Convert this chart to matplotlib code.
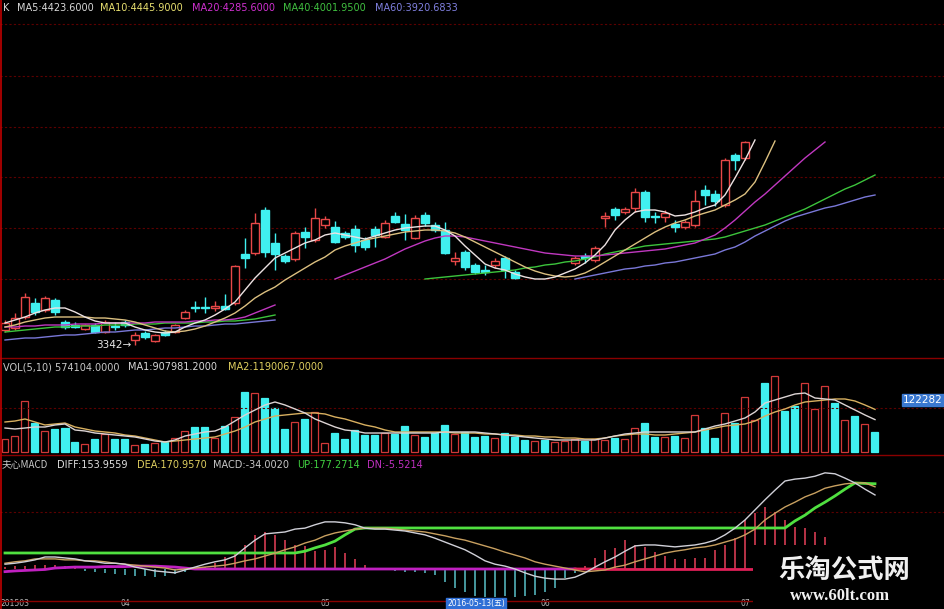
import numpy as np
import matplotlib
matplotlib.use("Agg")
import matplotlib.pyplot as plt
from matplotlib.patches import Rectangle

nan = np.nan

# --- K line (one candle per trading day, index 0 = first bar) ---
opens = [3417, 3427, 3482, 3552, 3517, 3567, 3457, 3442, 3422, 3442,
         3407, 3437, 3457, 3367, 3402, 3362, 3407, 3407, 3477, 3532,
         3532, 3527, 3537, 3552, 3797, 3802, 4017, 3852, 3787, 3772,
         3907, 3867, 3942, 3932, 3902, 3922, 3867, 3922, 3882, 3987,
         3947, 3877, 3992, 3942, 3917, 3762, 3807, 3742, 3717, 3742,
         3777, 3707, nan, nan, nan, nan, nan, 3752, 3787, 3767,
         3977, 4022, 4007, 4027, 4107, 3987, 3982, 3947, 3932, 3942,
         4117, 4097, 4042, 4292, 4277]
highs = [3467, 3502, 3602, 3577, 3587, 3577, 3467, 3457, 3447, 3452,
         3467, 3457, 3467, 3407, 3412, 3397, 3417, 3447, 3517, 3562,
         3582, 3562, 3597, 3742, 3877, 4002, 4032, 3902, 3797, 3912,
         3932, 4027, 3987, 3962, 3912, 3942, 3882, 3937, 3967, 4007,
         3997, 3992, 4007, 3957, 3957, 3807, 3817, 3752, 3742, 3777,
         3787, 3717, nan, nan, nan, nan, nan, 3787, 3802, 3837,
         4007, 4032, 4032, 4127, 4117, 4007, 4017, 3967, 3967, 4117,
         4142, 4117, 4277, 4302, 4362]
lows = [3407, 3417, 3472, 3492, 3507, 3492, 3422, 3427, 3417, 3402,
        3402, 3417, 3432, 3342, 3372, 3357, 3387, 3402, 3472, 3507,
        3502, 3512, 3517, 3542, 3727, 3792, 3782, 3717, 3752, 3762,
        3827, 3857, 3927, 3852, 3872, 3807, 3817, 3832, 3877, 3952,
        3867, 3872, 3937, 3907, 3797, 3742, 3717, 3697, 3692, 3727,
        3677, 3672, nan, nan, nan, nan, nan, 3742, 3752, 3757,
        3932, 3967, 3997, 4007, 3957, 3952, 3957, 3907, 3922, 3932,
        4042, 4037, 4032, 4217, 4267]
closes = [3452, 3477, 3582, 3507, 3577, 3507, 3432, 3432, 3442, 3407,
          3457, 3432, 3442, 3392, 3382, 3392, 3392, 3442, 3507, 3527,
          3527, 3537, 3522, 3737, 3777, 3952, 3807, 3797, 3762, 3902,
          3882, 3977, 3972, 3857, 3882, 3842, 3832, 3892, 3952, 3957,
          3917, 3977, 3952, 3917, 3802, 3777, 3732, 3707, 3707, 3762,
          3717, 3677, nan, nan, nan, nan, nan, 3777, 3777, 3827,
          3987, 3992, 4022, 4107, 3982, 3982, 4002, 3932, 3957, 4062,
          4092, 4062, 4267, 4267, 4357]

ma5 = [3452, 3467, 3482, 3502, 3517, 3527, 3527, 3507, 3482, 3462,
       3452, 3452, 3452, 3432, 3417, 3407, 3402, 3407, 3432, 3452,
       3467, 3492, 3522, 3557, 3617, 3677, 3727, 3777, 3802, 3827,
       3852, 3867, 3892, 3902, 3892, 3882, 3872, 3887, 3902, 3917,
       3927, 3932, 3937, 3937, 3917, 3887, 3837, 3792, 3747, 3727,
       3717, 3697, 3682, 3672, 3672, 3682, 3702, 3722, 3752, 3792,
       3842, 3917, 3967, 4007, 4017, 4017, 4007, 3987, 3992, 4007,
       4027, 4042, 4092, 4177, 4267, 4367] + [nan] * 12
ma10 = [3432, 3442, 3457, 3467, 3477, 3482, 3482, 3482, 3482, 3477,
        3477, 3472, 3467, 3457, 3442, 3427, 3412, 3407, 3412, 3422,
        3437, 3457, 3477, 3502, 3537, 3577, 3607, 3632, 3667, 3697,
        3727, 3757, 3782, 3817, 3837, 3852, 3867, 3877, 3887, 3897,
        3907, 3912, 3917, 3917, 3912, 3902, 3882, 3857, 3832, 3807,
        3782, 3757, 3732, 3712, 3697, 3687, 3682, 3687, 3702, 3727,
        3757, 3787, 3817, 3847, 3877, 3907, 3932, 3952, 3967, 3987,
        4002, 4017, 4042, 4067, 4097, 4157, 4257, 4362] + [nan] * 10
ma20 = ([3432, 3432, 3437, 3437, 3442, 3442, 3442, 3447, 3447, 3447,
         3452, 3452, 3452, 3452, 3452, 3457, 3457, 3457, 3457, 3462,
         3462, 3467, 3467, 3472, 3482, 3502, 3522, 3542]
        + [nan] * 5
        + [3672, 3692, 3712, 3732, 3752, 3772, 3797, 3822, 3842, 3862,
           3877, 3887, 3887, 3882, 3872, 3862, 3852, 3842, 3832, 3822,
           3812, 3802, 3797, 3792, 3787, 3787, 3787, 3792, 3797, 3802,
           3807, 3812, 3817, 3822, 3832, 3842, 3852, 3872, 3892, 3927,
           3967, 4012, 4057, 4097, 4142, 4187, 4232, 4277, 4317, 4357]
        + [nan] * 5)
ma40 = ([3407, 3412, 3417, 3422, 3427, 3432, 3432, 3437, 3437, 3437,
         3442, 3442, 3442, 3447, 3447, 3447, 3452, 3452, 3452, 3452,
         3457, 3457, 3462, 3462, 3467, 3472, 3482, 3492]
        + [nan] * 14
        + [3672, 3677, 3682, 3687, 3692, 3697, 3702, 3707, 3712, 3717,
           3727, 3732, 3742, 3747, 3757, 3762, 3772, 3782, 3797, 3807,
           3817, 3827, 3837, 3842, 3847, 3852, 3857, 3862, 3867, 3872,
           3882, 3897, 3912, 3927, 3942, 3962, 3982, 4002, 4022, 4047,
           4072, 4097, 4122, 4142, 4167, 4192])
ma60 = ([3367, 3372, 3377, 3377, 3382, 3387, 3392, 3392, 3397, 3402,
         3407, 3407, 3412, 3417, 3417, 3422, 3427, 3427, 3432, 3437,
         3437, 3442, 3447, 3447, 3452, 3457, 3462, 3467]
        + [nan] * 29
        + [3672, 3682, 3692, 3702, 3712, 3722, 3727, 3737, 3742, 3752,
           3757, 3767, 3777, 3787, 3797, 3817, 3832, 3857, 3887, 3912,
           3937, 3962, 3982, 3997, 4012, 4027, 4037, 4052, 4067, 4082,
           4092])

# --- volume (thousand shares) ---
vol_k = [364, 455, 1430, 806, 593, 640, 684, 298, 235, 364,
         511, 364, 381, 199, 235, 270, 298, 408, 602, 696,
         696, 392, 731, 972, 1678, 1634, 1512, 1236, 649, 850,
         925, 1126, 270, 530, 364, 621, 483, 483, 530, 511,
         731, 483, 436, 546, 759, 511, 574, 436, 455, 400,
         538, 428, 345, 317, 345, 290, 317, 373, 317, 373,
         345, 392, 364, 684, 806, 436, 420, 455, 392, 1035,
         668, 392, 1082, 822, 1540, 897, 1926, 2120, 1154, 1283,
         1910, 1192, 1844, 1358, 897, 1007, 787, 574]
vol_dir = ("rrrcrcccrc" "rccrcrcrrc" "crcrcrcccr" "crrcccccrc" "crcccrcccr"
           "cccrcrrrcr" "rcrrccrcrr" "ccrcrrcrcc" "rrrcrcrc")
vol_ma1 = [676, 649, 676, 704, 704, 759, 787, 621, 593, 538,
           511, 483, 455, 428, 373, 317, 290, 345, 455, 511,
           566, 593, 704, 869, 1035, 1173, 1311, 1394, 1311, 1201,
           1090, 925, 814, 704, 621, 593, 538, 538, 538, 538,
           538, 538, 538, 538, 566, 566, 566, 566, 538, 511,
           483, 455, 428, 400, 373, 345, 345, 345, 345, 345,
           400, 455, 511, 538, 566, 566, 566, 566, 566, 566,
           649, 731, 787, 869, 952, 1118, 1366, 1449, 1532, 1615,
           1642, 1504, 1477, 1449, 1311, 1173, 1035, 908]
vol_ma2 = [842, 869, 925, 842, 759, 787, 814, 704, 649, 593,
           566, 538, 483, 455, 400, 345, 290, 317, 345, 373,
           400, 428, 511, 593, 704, 842, 925, 1007, 1035, 1063,
           1090, 1090, 1063, 980, 925, 842, 759, 704, 621, 566,
           566, 566, 566, 566, 566, 538, 538, 538, 511, 511,
           483, 483, 455, 455, 428, 428, 400, 400, 373, 373,
           400, 455, 483, 511, 511, 483, 483, 511, 538, 566,
           621, 676, 731, 759, 787, 869, 1007, 1118, 1201, 1311,
           1394, 1421, 1449, 1477, 1477, 1421, 1311, 1190]

# --- MACD ---
diff = [10, 12, 15, 19, 25, 25, 23, 21, 17, 15,
        12, 12, 10, 4, 0, -4, -6, -8, -2, 4,
        10, 15, 19, 27, 44, 60, 73, 75, 77, 83,
        85, 92, 98, 98, 96, 92, 85, 83, 83, 81,
        79, 75, 71, 64, 56, 48, 40, 29, 17, 10,
        6, 0, -8, -15, -19, -21, -21, -17, -8, 4,
        15, 25, 37, 48, 50, 50, 48, 46, 48, 50,
        54, 60, 71, 85, 102, 123, 144, 164, 183, 187,
        189, 193, 200, 198, 189, 179, 166, 154]
dea = [12, 15, 17, 21, 21, 21, 19, 19, 17, 17,
       15, 12, 10, 8, 6, 4, 2, -2, 0, 2,
       4, 6, 8, 12, 17, 21, 27, 33, 40, 46,
       54, 60, 69, 75, 79, 83, 85, 85, 85, 83,
       81, 79, 77, 73, 69, 64, 60, 54, 48, 42,
       35, 29, 23, 15, 10, 6, 2, -2, -6, -4,
       -2, 4, 8, 15, 21, 27, 33, 37, 40, 44,
       46, 50, 56, 62, 71, 83, 102, 116, 129, 139,
       150, 158, 168, 173, 177, 179, 179, 171]
macd = [4, 6, 6, 8, 8, 8, 6, 2, -4, -6,
        -8, -10, -12, -15, -15, -17, -15, -10, -6, -2,
        4, 12, 25, 33, 50, 71, 77, 71, 60, 50,
        48, 37, 40, 46, 33, 21, 8, 2, -2, -4,
        -6, -6, -8, -12, -27, -40, -48, -56, -58, -58,
        -56, -58, -56, -54, -48, -40, -19, -8, 6, 23,
        40, 44, 60, 50, 46, 35, 27, 21, 21, 23,
        23, 40, 50, 64, 102, 116, 129, 119, 102, 87,
        85, 77, 67, 40, 19, 2, -19, -34]
up_line = ([33.3] * 30 + [37, 44, 50, 58, 71, 83] + [85.3] * 43
           + [100, 112, 127, 139, 152, 166, 179, 178, 177.3])
dn_line = ([-5.5, -4, -3, -2, -1, 2, 3, 4, 4, 4, 5, 5, 5, 6, 6, 6, 5, 4, 2, 0]
           + [0.0] * 40 + [-1.0] * 20 + [-3.0] * 7 + [-5.5])

date_ticks = [0, 12, 32, 54, 74]
date_labels = ["201503", "04", "05", "06", "07"]

idx = np.arange(len(vol_k))
W, H = 945, 609
RED = "#e84848"
CYAN = "#40f0f0"
GRID = "#5c0000"

fig = plt.figure(figsize=(W / 100, H / 100), dpi=100, facecolor="black")


def panel(top, bottom, ylim):
    ax = fig.add_axes([0, 1 - bottom / H, 1, (bottom - top) / H])
    ax.set_facecolor("black")
    ax.set_axis_off()
    ax.set_xlim(-0.5, 94.0)
    ax.set_ylim(*ylim)
    return ax


ax_k = panel(0, 358, (3277, 5067))
ax_v = panel(358, 455, (-69, 2608))
ax_m = panel(455, 609, (-83.2, 237.1))

# dotted grid
for lvl in (4947, 4687, 4432, 4182, 3927, 3672):
    ax_k.axhline(lvl, color=GRID, lw=0.8, ls=(0, (2, 2)))
ax_v.axhline(1222.82, color=GRID, lw=0.8, ls=(0, (2, 2)))
ax_m.axhline(118.6, color=GRID, lw=0.8, ls=(0, (2, 2)))

# candles
for i, (o, h, l, c) in enumerate(zip(opens, highs, lows, closes)):
    if np.isnan(o):
        continue
    lo, hi = min(o, c), max(o, c)
    if c >= o:
        ax_k.vlines(i, hi, h, color=RED, lw=1)
        ax_k.vlines(i, l, lo, color=RED, lw=1)
        ax_k.add_patch(Rectangle((i - 0.38, lo), 0.76, max(hi - lo, 2),
                                 facecolor="black", edgecolor=RED, lw=1, zorder=3))
    else:
        ax_k.vlines(i, l, h, color=CYAN, lw=1)
        ax_k.add_patch(Rectangle((i - 0.38, lo), 0.76, max(hi - lo, 2),
                                 facecolor=CYAN, edgecolor=CYAN, lw=1, zorder=3))

ax_k.plot(idx, ma60, color="#7a78d8", lw=1.0, zorder=4)
ax_k.plot(idx, ma40, color="#3cc43c", lw=1.0, zorder=4)
ax_k.plot(idx, ma20, color="#c038c0", lw=1.0, zorder=4)
ax_k.plot(idx, ma10, color="#dcc080", lw=1.0, zorder=4)
ax_k.plot(idx, ma5, color="#ece2e2", lw=1.0, zorder=4)
ax_k.text(13 - 0.4, 3342, "3342\u2192", color="#e8e8e8", fontsize=7.5,
          ha="right", va="center")

# volume
is_up = [d == "r" for d in vol_dir]
ax_v.bar(idx, vol_k, width=0.7,
         color=["black" if u else CYAN for u in is_up],
         edgecolor=["#d03838" if u else CYAN for u in is_up], linewidth=0.9)
ax_v.plot(idx, vol_ma2, color="#d8b060", lw=1.0)
ax_v.plot(idx, vol_ma1, color="#dcd4d4", lw=1.0)

# MACD
bar_col = ["#e8405a" if m > 0 else "#58c0c8" for m in macd]
ax_m.vlines(idx, 0, macd, colors=bar_col, lw=1.1)
ax_m.plot(idx[:58], dn_line[:58], color="#c020c0", lw=2.0)
ax_m.plot(idx[57:], dn_line[57:], color="#e02058", lw=2.0)
ax_m.plot(idx, up_line, color="#50e040", lw=2.0)
ax_m.plot(idx, dea, color="#c8a060", lw=1.0)
ax_m.plot(idx, diff, color="#d0d0d8", lw=1.0)

# frame lines
for py in (358, 455, 601):
    fig.add_artist(plt.Line2D([0, 1], [1 - py / H] * 2, color="#8a0000", lw=1.0))
fig.add_artist(plt.Line2D([1.5 / W] * 2, [0, 1], color="#c00000", lw=1.2))


def label(px, py, s, color, size=7, **kw):
    fig.text(px / W, 1 - py / H, s, color=color, fontsize=size,
             ha="left", va="center", **kw)


label(3, 8, "K", "#d8d8d8")
label(17, 8, "MA5:4423.6000", "#d8d8d8")
label(100, 8, "MA10:4445.9000", "#e8e070")
label(192, 8, "MA20:4285.6000", "#d030d0")
label(283, 8, "MA40:4001.9500", "#40c040")
label(375, 8, "MA60:3920.6833", "#8080e0")

label(3, 367, "VOL(5,10) 574104.0000", "#c8c8c8")
label(128, 367, "MA1:907981.2000", "#d8d8d8")
label(228, 367, "MA2:1190067.0000", "#e0d060")

label(2, 465, "夫心MACD", "#c8c8c8", family=["Noto Sans CJK SC", "DejaVu Sans"])
label(57, 465, "DIFF:153.9559", "#e0e0e0")
label(137, 465, "DEA:170.9570", "#e0d060")
label(213, 465, "MACD:-34.0020", "#c8c8c8")
label(297, 465, "UP:177.2714", "#40d040")
label(367, 465, "DN:-5.5214", "#c030c0")

# right-hand value tag, kept inside the frame
fig.text(943 / W, 1 - 400 / H, "122282", color="white", fontsize=7.5,
         ha="right", va="center",
         bbox=dict(facecolor="#3a78d0", edgecolor="#3a78d0", pad=1.0))

# date axis (small, kept inside the bottom strip)
for t, s in zip(date_ticks, date_labels):
    ax_m.text(t - 0.45, 0.5 / 154, s, color="#b8b8b8", fontsize=5.5,
              ha="left", va="bottom", transform=ax_m.get_xaxis_transform())
fig.text(476 / W, 1.2 / H, "2016-05-13(五)", color="white", fontsize=5.5,
         ha="center", va="bottom", family=["DejaVu Sans", "Noto Sans CJK SC"],
         bbox=dict(facecolor="#2f6fd6", edgecolor="#2f6fd6", pad=0.6))

# watermark block
fig.add_artist(Rectangle((753 / W, 0), 1 - 753 / W, 64 / H,
                         transform=fig.transFigure, facecolor="black",
                         edgecolor="none", zorder=10))
fig.text(844 / W, 1 - 570 / H, "乐淘公式网", color="#f0f0f0", fontsize=19,
         fontweight="bold", family=["Noto Sans CJK SC"], ha="center",
         va="center", zorder=11)
fig.text(840 / W, 1 - 596 / H, "www.60lt.com", color="#f0f0f0", fontsize=12,
         fontweight="bold", family=["Liberation Serif"], ha="center",
         va="center", zorder=11)

fig.savefig("out.png", dpi=100, facecolor="black")
plt.close(fig)
